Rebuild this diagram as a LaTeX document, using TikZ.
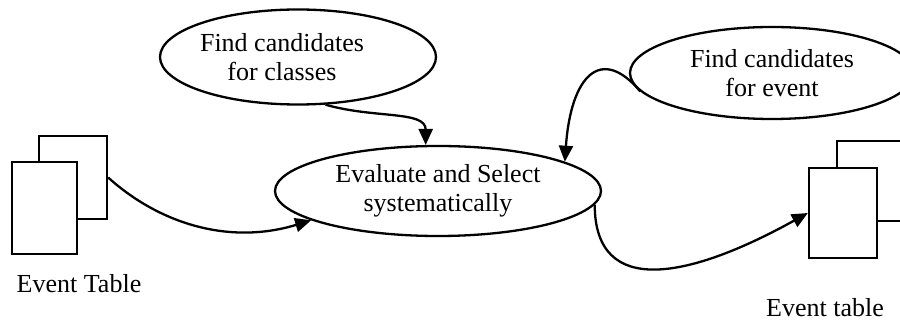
\documentclass[tikz,border=0pt]{standalone}
\usepackage{fontspec}
\setmainfont{Liberation Serif}
\usetikzlibrary{shapes.geometric,arrows.meta}

\tikzset{
  bubble/.style={draw, ellipse, inner sep=0pt, align=center, font=\fontsize{13}{14.5}\selectfont},
  page/.style={draw, fill=white, rectangle, inner sep=0pt},
  caption/.style={inner sep=0pt, align=center, font=\fontsize{13}{14.5}\selectfont},
}

\begin{document}
\begin{tikzpicture}[x=0.5pt, y=-0.5pt, line width=1.15pt, >={Triangle[length=8pt,width=7pt]}]
            \clip (0,0) rectangle (900,320);

            \node (1) [page, minimum width=34pt, minimum height=41.5pt] at (73,177.5) {};
            \node (2) [page, minimum width=32.5pt, minimum height=46pt] at (44.5,208) {};
            \node (3) [bubble, minimum width=138pt, minimum height=47.5pt] at (298,57) {};
            \node (10) [caption] at (282,57) {Find candidates\\for classes};
            \node (4) [bubble, minimum width=163pt, minimum height=45pt] at (438,191) {Evaluate and Select\\systematically};
            \node (5) [bubble, minimum width=142pt, minimum height=46pt] at (772,73) {Find candidates\\for event};
            \node (6) [page, minimum width=34pt, minimum height=40pt] at (871,181) {};
            \node (7) [page, minimum width=34pt, minimum height=45pt] at (843,213) {};
            \node (8) [caption, anchor=base] at (79,293) {Event Table};
            \node (9) [caption, anchor=base] at (825,317) {Event table};

            \path[->]
            (1.east) edge[out=-42, in=197, out looseness=0.86, in looseness=1.05] (4.193)
            (3.-60) edge[out=-16, in=90, out looseness=1.21, in looseness=0.82] (4.105)
            (5.188) edge[out=130, in=86, out looseness=1.53, in looseness=2.13] (4.13)
            (4.-5) edge[out=-90, in=209, out looseness=1.13, in looseness=1.61] (7.west);

\end{tikzpicture}
\end{document}
